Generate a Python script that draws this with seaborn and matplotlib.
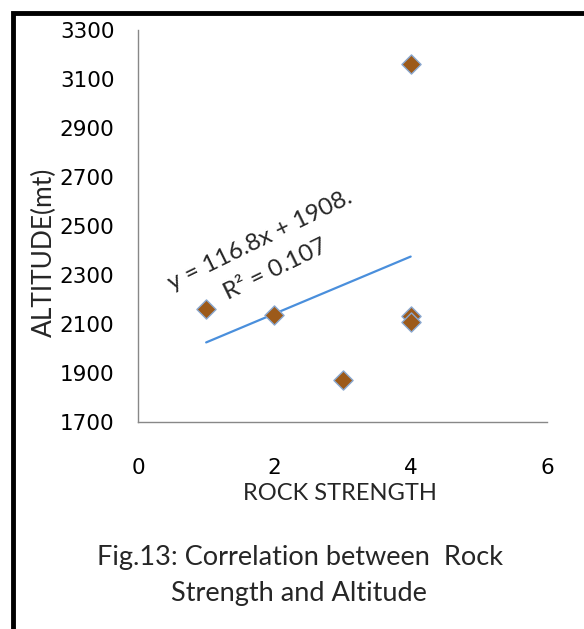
import matplotlib
matplotlib.use("Agg")
import matplotlib.pyplot as plt
from matplotlib.patches import Rectangle
import numpy as np
import pandas as pd
import seaborn as sns

# data
rock_strength = [1, 2, 3, 4, 4, 4]
altitude = [2160, 2135, 1870, 3160, 2132, 2107]
trend_slope = 116.8
trend_intercept = 1908
trend_x = [1, 4]
x_ticks = [0, 2, 4, 6]
y_ticks = [1700, 1900, 2100, 2300, 2500, 2700, 2900, 3100, 3300]

sns.set_style("white")
plt.rcParams['font.family'] = ['Lato', 'DejaVu Sans']

df = pd.DataFrame({"strength": rock_strength, "altitude": altitude})

fig = plt.figure(figsize=(5.84, 6.29), dpi=100)
ax = fig.add_axes([138/584, 1 - 422/629, (547-138)/584, (422-30)/629])

sns.scatterplot(data=df, x="strength", y="altitude", marker="D", s=95,
                color="#9c5a1a", edgecolor="#8aa8d0", linewidth=1, ax=ax, zorder=3)

tx = np.array(trend_x)
ax.plot(tx, trend_slope * tx + trend_intercept, color="#4a8fdc", lw=1.6, zorder=2)

ax.set_xlim(0, 6)
ax.set_ylim(1700, 3300)
ax.set_xticks(x_ticks)
ax.set_yticks(y_ticks)
ax.tick_params(axis="both", colors="#888888", labelcolor="black",
               length=7, width=1, direction="out")
ax.tick_params(axis="x", pad=19)
ax.tick_params(axis="y", pad=10)
for lab in ax.get_xticklabels() + ax.get_yticklabels():
    lab.set_fontfamily("DejaVu Sans")
    lab.set_fontsize(15.5)
for s in ["top", "right"]:
    ax.spines[s].set_visible(False)
for s in ["left", "bottom"]:
    ax.spines[s].set_color("#888888")
    ax.spines[s].set_linewidth(1)
ax.set_xlabel("")
ax.set_ylabel("")

# trendline label
ax.text(0.50, 2239, "y = 116.8x + 1908.", rotation=26, fontsize=17.5,
        ha="left", va="baseline", rotation_mode="anchor")
ax.text(1.32, 2198, "R² = 0.107", rotation=26, fontsize=17.5,
        ha="left", va="baseline", rotation_mode="anchor")

fig.text(44/584, 1 - 252/629, "ALTITUDE(mt)", rotation=90, fontsize=19,
         ha="center", va="center")
fig.text(340/584, 1 - 493/629, "ROCK STRENGTH", fontsize=17,
         ha="center", va="center")
fig.text(300/584, 1 - 565/629, "Fig.13: Correlation between  Rock", fontsize=19.5,
         ha="center", va="baseline")
fig.text(299/584, 1 - 601/629, "Strength and Altitude", fontsize=19.5,
         ha="center", va="baseline")

# outer frame
fig.patches.append(Rectangle((13/584, -0.1), 1.2, 1.1 - 13/629,
                             transform=fig.transFigure, fill=False,
                             edgecolor="black", linewidth=3.5))

fig.savefig("out.png", dpi=100)
